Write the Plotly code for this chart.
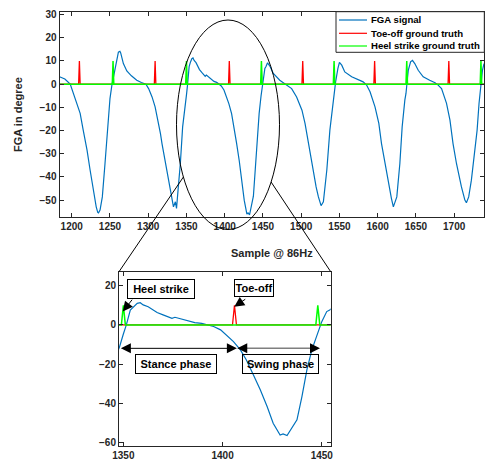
import plotly.graph_objects as go

# ---------------- data ----------------
SAMPLE_START = 1184
SAMPLE_END = 1739

fga_x = [1184, 1191, 1198, 1204, 1211, 1215, 1220, 1224, 1228, 1232, 1234, 1235, 1237, 1240,
         1243.5, 1247, 1250, 1252.5, 1255.5, 1259, 1261, 1263, 1264, 1267.5, 1272, 1278, 1285,
         1291, 1297, 1300.5, 1305, 1309, 1313.5, 1316, 1318, 1322, 1326.5, 1331, 1333, 1335.5,
         1337, 1339, 1342, 1345, 1348, 1350, 1351.5, 1353.5, 1355, 1357, 1358.5, 1360, 1362.5,
         1367, 1370, 1374.5, 1376, 1378.5, 1382, 1386, 1389.5, 1392, 1395.5, 1399, 1402, 1405.5,
         1409, 1412, 1415.5, 1419, 1422.5, 1425.5, 1429, 1430.5, 1432.5, 1435, 1437.5, 1440,
         1442.5, 1445, 1447.5, 1450, 1452.5, 1454, 1456, 1459.5, 1463.5, 1472, 1481, 1487.5,
         1494, 1501, 1505, 1509.5, 1514, 1519.5, 1522.5, 1524.5, 1526, 1529, 1533.5, 1537.5,
         1542, 1545, 1548, 1550, 1553, 1557, 1566, 1575, 1581, 1585.5, 1590, 1596.5, 1601.5,
         1605, 1609.5, 1614.5, 1618, 1620.5, 1622, 1625, 1629, 1632, 1635.5, 1637, 1640, 1643,
         1645.5, 1648.5, 1653, 1659.5, 1668, 1675, 1679, 1683.5, 1690, 1694.5, 1698.5, 1703,
         1709.5, 1714, 1716, 1719, 1722.5, 1727, 1730, 1732.5, 1735, 1737, 1739]
fga_y = [3.2, 2.2, 0, -5.5, -12.6, -19.8, -28.4, -37, -45.7, -52.9, -55.3, -55.5, -54.3, -48.6,
         -34.2, -16.9, -6.2, -0.4, 4.6, 9.6, 13.8, 14.2, 13.5, 8.9, 5.7, 3.6, 1.7,
         0.7, 0, -1.9, -5.5, -9.8, -16.9, -21.3, -25.6, -32.8, -41.4, -48.6, -52.9, -50.7,
         -53.6, -45.7, -34.2, -18.4, -11.4, -4.6, 0, 7.6, 9.3, 11, 11.3, 10.2, 9.3,
         6.3, 5.1, 3.4, 3.9, 3.2, 2.2, 1.2, 0.8, 0, -0.8, -2.5, -5.1, -8.5,
         -12.7, -17.8, -25.4, -33, -41.6, -50, -56, -55.5, -56.3, -52.6, -48.3, -36.5,
         -22.9, -12.7, -5.1, 1.7, 6.8, 7.6, 9.2, 7.5, 4.6, 1.7, -0.4, -1.9,
         -5.5, -11.2, -16.9, -25.6, -34.2, -44.3, -48.6, -51.4, -52.4, -50.7, -37, -19.8,
         -6.9, 1, 6.8, 9.4, 8.2, 5.3, 3.2, 1.7, 1, -0.4, -3.3, -9.8, -16.9,
         -25.6, -34.2, -44.3, -49.3, -52.9, -51.5, -48.6, -34.2, -18.4, -6.9, -4, 6, 9.6,
         10.3, 8.9, 6, 3.2, 1.7, 0.6, -0.4, -1.9, -8.3, -15.5, -25.6, -34.2,
         -44.3, -50, -51.1, -48.6, -41.4, -29.9, -19.8, -8.3, 1, 6, 8.9]

toe_off_samples = [1210, 1309, 1406, 1502, 1596, 1693]
heel_strike_samples = [1254, 1350, 1448, 1543, 1638, 1735]
SPIKE_HEIGHT = 10

top_xticks = [1200, 1250, 1300, 1350, 1400, 1450, 1500, 1550, 1600, 1650, 1700]
top_yticks = [-50, -40, -30, -20, -10, 0, 10, 20, 30]
zoom_xticks = [1350, 1400, 1450]
zoom_yticks = [-60, -40, -20, 0, 20]

series_names = ["FGA signal", "Toe-off ground truth", "Heel strike ground truth"]

# ---------------- styles ----------------
W, H = 492, 468
BLUE = "#0072BD"
RED = "#FF0000"
GREEN = "#00FF00"
AXC = "#262626"
FONT = "Liberation Sans, Arial, sans-serif"


def pxx(x):
    return x / W


def pxy(y):
    return 1 - y / H


def pulse_series(events, lo, hi, height):
    xs, ys = [lo], [0]
    for n in events:
        xs += [n - 1, n, n + 1]
        ys += [0, height, 0]
    xs.append(hi)
    ys.append(0)
    return xs, ys


toe_x, toe_y = pulse_series(toe_off_samples, SAMPLE_START, SAMPLE_END, SPIKE_HEIGHT)
heel_x, heel_y = pulse_series(heel_strike_samples, SAMPLE_START, SAMPLE_END, SPIKE_HEIGHT)

fig = go.Figure()
for xa, ya in (("x", "y"), ("x2", "y2")):
    fig.add_trace(go.Scatter(x=fga_x, y=fga_y, mode="lines", name=series_names[0],
                             line=dict(color=BLUE, width=1.2), xaxis=xa, yaxis=ya,
                             showlegend=False))
    fig.add_trace(go.Scatter(x=toe_x, y=toe_y, mode="lines", name=series_names[1],
                             line=dict(color=RED, width=1.3), xaxis=xa, yaxis=ya,
                             showlegend=False))
    fig.add_trace(go.Scatter(x=heel_x, y=heel_y, mode="lines", name=series_names[2],
                             line=dict(color=GREEN, width=1.5), xaxis=xa, yaxis=ya,
                             showlegend=False))

tickfont = dict(family=FONT, size=10, color=AXC, weight="bold")
axis_common = dict(showline=True, linecolor=AXC, linewidth=1, mirror="ticks",
                   ticks="inside", ticklen=4, tickcolor=AXC, tickwidth=1,
                   showgrid=False, zeroline=False, tickfont=tickfont,
                   automargin=False, fixedrange=True)

fig.update_layout(
    width=W, height=H,
    margin=dict(l=0, r=0, t=0, b=0),
    paper_bgcolor="white", plot_bgcolor="white",
    showlegend=False,
    xaxis=dict(domain=[pxx(59.5), pxx(484)], range=[1184, 1739], tickvals=top_xticks,
               anchor="y", **axis_common),
    yaxis=dict(domain=[pxy(217.3), pxy(11.7)], range=[-57.4, 31.25], tickvals=top_yticks,
               anchor="x", **axis_common),
    xaxis2=dict(domain=[pxx(119), pxx(330.7)], range=[1347.8, 1454.5], tickvals=zoom_xticks,
                anchor="y2", **axis_common),
    yaxis2=dict(domain=[pxy(446), pxy(271.7)], range=[-61.6, 27.1], tickvals=zoom_yticks,
                anchor="x2", **axis_common),
)

# ---------------- shapes: ellipse, connectors, legend box ----------------
shapes = [
    dict(type="circle", xref="paper", yref="paper", x0=pxx(176.5), x1=pxx(279.5),
         y0=pxy(229.5), y1=pxy(20), line=dict(color="black", width=1)),
    dict(type="line", xref="paper", yref="paper", x0=pxx(183.4), y0=pxy(177),
         x1=pxx(119), y1=pxy(271.7), line=dict(color="black", width=1)),
    dict(type="line", xref="paper", yref="paper", x0=pxx(271.1), y0=pxy(182),
         x1=pxx(330.7), y1=pxy(271.7), line=dict(color="black", width=1)),
    dict(type="rect", xref="paper", yref="paper", x0=pxx(336), x1=pxx(484.3),
         y0=pxy(52.3), y1=pxy(11.7), line=dict(color=AXC, width=1), fillcolor="white",
         layer="above"),
    # swing-phase arrow shaft (gray)
    dict(type="line", xref="x2", yref="y2", x0=1408.5, x1=1447.5, y0=-11.9, y1=-11.9,
         line=dict(color="#7f7f7f", width=1.5)),
]
legend_colors = [BLUE, RED, GREEN]
legend_rows = [20, 33.3, 46]
annotations = []
for name, col, ry in zip(series_names, legend_colors, legend_rows):
    shapes.append(dict(type="line", xref="paper", yref="paper", x0=pxx(339), x1=pxx(367),
                       y0=pxy(ry), y1=pxy(ry), line=dict(color=col, width=1.2)))
    annotations.append(dict(xref="paper", yref="paper", x=pxx(368.5), y=pxy(ry), text=name,
                            showarrow=False, xanchor="left", yanchor="middle",
                            font=dict(family=FONT, size=9.6, color="black", weight="bold")))

# axis titles
title_font = dict(family=FONT, size=11, color=AXC, weight="bold")
annotations.append(dict(xref="paper", yref="paper", x=pxx(17.5), y=pxy(114.5),
                        text="FGA in degree", textangle=-90, showarrow=False,
                        xanchor="center", yanchor="middle", font=title_font))
annotations.append(dict(xref="paper", yref="paper", x=pxx(271.5), y=pxy(252.5),
                        text="Sample @ 86Hz", showarrow=False,
                        xanchor="center", yanchor="middle", font=title_font))

# ---------------- zoom-panel annotations ----------------
box_font = dict(family=FONT, size=11, color="black", weight="bold")


def textbox(x, y, text, w, h):
    return dict(xref="x2", yref="y2", x=x, y=y, text=text, showarrow=False,
                width=w, height=h, bordercolor="black", borderwidth=1, borderpad=0,
                bgcolor="rgba(0,0,0,0)", font=box_font, align="center", valign="middle")


annotations += [
    textbox(1369.1, 18.2, "Heel strike", 66, 18),
    textbox(1416.0, 18.7, "Toe-off", 38, 16),
    textbox(1376.5, -20.0, "Stance phase", 80, 18),
    textbox(1429.0, -20.0, "Swing phase", 75, 18),
]

arrow_style = dict(showarrow=True, arrowhead=2, arrowsize=2.0, arrowwidth=1.0,
                   arrowcolor="black", text="")
annotations += [
    dict(xref="x2", yref="y2", axref="x2", ayref="y2", x=1349.7, y=6.8, ax=1355, ay=13.6,
         **arrow_style),
    dict(xref="x2", yref="y2", axref="x2", ayref="y2", x=1405.9, y=9.3, ax=1412.2, ay=13.6,
         **arrow_style),
    dict(xref="x2", yref="y2", axref="x2", ayref="y2", x=1407.2, y=-11.9, ax=1348, ay=-11.9,
         arrowside="end+start", startarrowhead=2, startarrowsize=2.0, **arrow_style),
    dict(xref="x2", yref="y2", x=1449.1, y=-11.9, ax=-8, ay=0, **arrow_style),
    dict(xref="x2", yref="y2", x=1407.4, y=-11.9, ax=8, ay=0, **arrow_style),
]

fig.update_layout(shapes=shapes, annotations=annotations)
fig.write_html("out.html")
